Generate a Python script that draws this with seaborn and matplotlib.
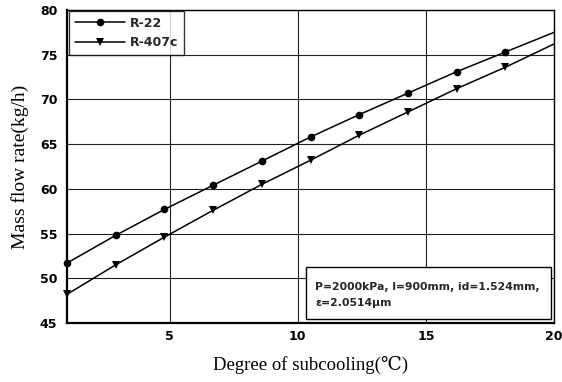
import numpy as np
import pandas as pd
import matplotlib
matplotlib.use("Agg")
import matplotlib.pyplot as plt
from matplotlib.lines import Line2D
from matplotlib.patches import Rectangle
import seaborn as sns

# Degree of subcooling (°C) and mass flow rate (kg/h) for each refrigerant
subcooling = [1.0, 2.9, 4.8, 6.7, 8.6, 10.5, 12.4, 14.3, 16.2, 18.1, 20.0]
r22_flow = [51.7, 54.8, 57.7, 60.4, 63.1, 65.8, 68.3, 70.7, 73.1, 75.3, 77.5]
r407c_flow = [48.2, 51.5, 54.6, 57.6, 60.5, 63.2, 66.0, 68.6, 71.2, 73.6, 76.2]
series_names = ["R-22", "R-407c"]
x_ticks = [5, 10, 15, 20]
y_ticks = [45, 50, 55, 60, 65, 70, 75, 80]

df = pd.DataFrame({
    "subcooling": subcooling * 2,
    "flow": r22_flow + r407c_flow,
    "refrigerant": [series_names[0]] * len(subcooling) + [series_names[1]] * len(subcooling),
})

sns.set_theme(style="white")
sans = ["DejaVu Sans"]
serif = ["Liberation Serif", "DejaVu Serif"]

fig = plt.figure(figsize=(5.62, 3.82), dpi=100)
ax = fig.add_axes([0.1192, 0.1545, 0.8666, 0.8193])

sns.lineplot(
    data=df, x="subcooling", y="flow", hue="refrigerant", style="refrigerant",
    palette={"R-22": "black", "R-407c": "black"},
    markers={"R-22": "o", "R-407c": "v"}, dashes=False,
    markersize=5.5, markeredgewidth=0, linewidth=1.1,
    markevery=list(range(len(subcooling) - 1)),
    ax=ax, legend=False, clip_on=False, zorder=3,
)

ax.set_xlim(1, 20)
ax.set_ylim(45, 80)
ax.set_xticks(x_ticks)
ax.set_yticks(y_ticks)
ax.grid(True, color="#222222", linewidth=0.8)
ax.set_axisbelow(True)
for side in ["left", "bottom"]:
    ax.spines[side].set_linewidth(1.6)
for side in ["top", "right"]:
    ax.spines[side].set_linewidth(1.0)
for sp in ax.spines.values():
    sp.set_color("black")

ax.tick_params(axis="x", length=0, pad=5, labelsize=9, colors="black")
ax.tick_params(axis="y", length=0, pad=7, labelsize=9, colors="black")
for lbl in ax.get_xticklabels() + ax.get_yticklabels():
    lbl.set_fontfamily(sans)
    lbl.set_fontweight("bold")

ax.set_xlabel("Degree of subcooling(℃)", fontsize=13.5, family=serif, labelpad=9, color="black")
ax.set_ylabel("Mass flow rate(kg/h)", fontsize=14, family=serif, labelpad=8, color="black")

# legend with line + marker samples
handles = [
    Line2D([], [], color="black", marker="o", markersize=5.5, markeredgewidth=0, linewidth=1.1),
    Line2D([], [], color="black", marker="v", markersize=5.5, markeredgewidth=0, linewidth=1.1),
]
leg = ax.legend(handles, series_names, loc="upper left", bbox_to_anchor=(0.004, 0.997),
                frameon=True, fancybox=False, handlelength=4.0, borderpad=0.45,
                labelspacing=0.55, handletextpad=0.45, borderaxespad=0.0,
                prop={"family": sans, "size": 9, "weight": "bold"})
leg.get_frame().set_edgecolor("black")
leg.get_frame().set_linewidth(1.0)

# conditions box in the lower right
ax.add_patch(Rectangle((0.4908, 0.0128), 0.503, 0.166, transform=ax.transAxes,
                       facecolor="white", edgecolor="black", linewidth=1.0, zorder=5))
ax.text(0.509, 0.115, "P=2000kPa, l=900mm, id=1.524mm,", transform=ax.transAxes,
        ha="left", va="center", fontsize=7.8, fontweight="bold", family=sans, zorder=6)
ax.text(0.509, 0.064, "ε=2.0514μm", transform=ax.transAxes,
        ha="left", va="center", fontsize=7.8, fontweight="bold", family=sans, zorder=6)

fig.savefig("out.png", dpi=100)
